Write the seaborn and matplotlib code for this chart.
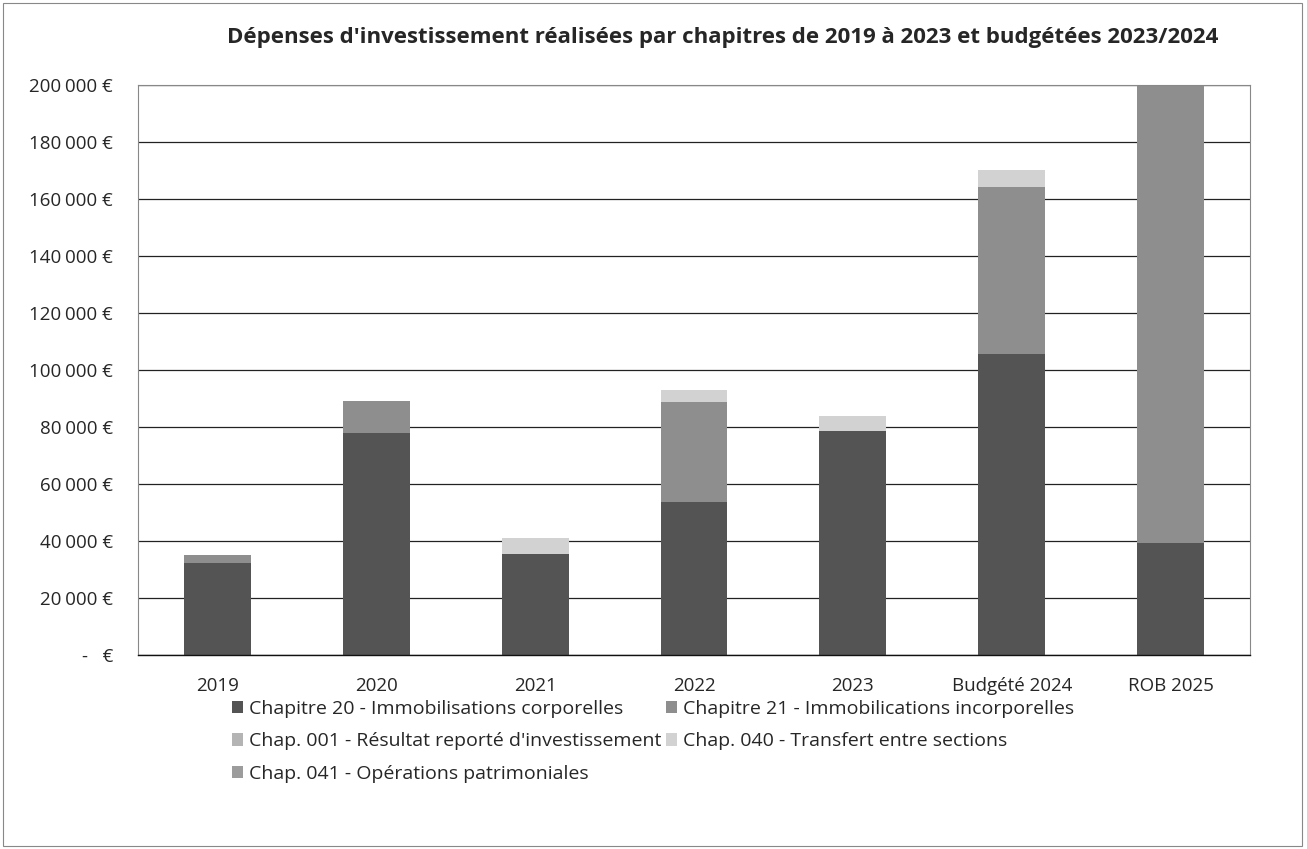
import matplotlib
matplotlib.use('Agg')
import matplotlib.pyplot as plt
import seaborn as sns
import numpy as np
import pandas as pd
from matplotlib.ticker import FuncFormatter

categories = ['2019', '2020', '2021', '2022', '2023', 'Budgété 2024', 'ROB 2025']

chap20 = [32300, 77900, 35400, 53700, 78600, 105600, 39300]
chap21 = [2900, 11200, 0, 35100, 0, 58600, 160700]
chap001 = [0, 0, 0, 0, 0, 0, 0]
chap040 = [0, 0, 5600, 4200, 5300, 6000, 0]
chap041 = [0, 0, 0, 0, 0, 0, 0]

series_names = [
    'Chapitre 20 - Immobilisations corporelles',
    'Chapitre 21 - Immobilications incorporelles',
    "Chap. 001 - Résultat reporté d'investissement",
    'Chap. 040 - Transfert entre sections',
    'Chap. 041 - Opérations patrimoniales',
]
series_values = [chap20, chap21, chap001, chap040, chap041]
colors = ['#545454', '#8e8e8e', '#b4b4b4', '#d2d2d2', '#9c9c9c']

sns.set_style('white')
plt.rcParams['font.family'] = ['Open Sans', 'DejaVu Sans']

fig = plt.figure(figsize=(13.07, 8.49), dpi=100)
ax = fig.add_axes([138 / 1307, 1 - 655 / 849, (1250 - 138) / 1307, (655 - 85) / 849])

bottom = np.zeros(len(categories))
for name, vals, col in zip(series_names, series_values, colors):
    sns.barplot(x=categories, y=vals, bottom=bottom, color=col, width=0.42,
                label=name, ax=ax, linewidth=0, saturation=1)
    bottom = bottom + np.array(vals)

ax.set_ylim(0, 200000)
ax.set_yticks(np.arange(0, 200001, 20000))
ax.yaxis.set_major_formatter(FuncFormatter(
    lambda v, p: '-   €' if v == 0 else f'{int(v):,} €'.replace(',', '\u202f')))
ax.grid(axis='y', color='#222222', linewidth=0.9)
ax.set_axisbelow(True)
ax.tick_params(axis='y', length=0, labelsize=13.5, pad=18)
ax.tick_params(axis='x', length=0, labelsize=13.5, pad=16)
for s in ['top', 'right', 'left']:
    ax.spines[s].set_color('#888888')
    ax.spines[s].set_linewidth(0.8)
ax.spines['bottom'].set_color('#111111')
ax.spines['bottom'].set_linewidth(1.0)
ax.set_xlabel('')
ax.set_ylabel('')
if ax.get_legend():
    ax.get_legend().remove()

fig.text(723 / 1307, 1 - 38 / 849,
         "Dépenses d'investissement réalisées par chapitres de 2019 à 2023 et budgétées 2023/2024",
         ha='center', va='center', fontsize=16, fontweight='bold')

h, l = ax.get_legend_handles_labels()
order = [0, 2, 4, 1, 3]
fig.legend([h[i] for i in order], [l[i] for i in order], ncol=2,
           loc='upper left', bbox_to_anchor=(224 / 1307, 1 - 692 / 849),
           frameon=False, fontsize=14, handlelength=0.6, handleheight=0.6,
           handletextpad=0.3, columnspacing=0.2, labelspacing=0.75, borderaxespad=0)

fig.patches.append(plt.Rectangle((0.002, 0.004), 0.994, 0.992, transform=fig.transFigure,
                                 fill=False, edgecolor='#888888', linewidth=0.8))

fig.savefig('out.png', dpi=100)
